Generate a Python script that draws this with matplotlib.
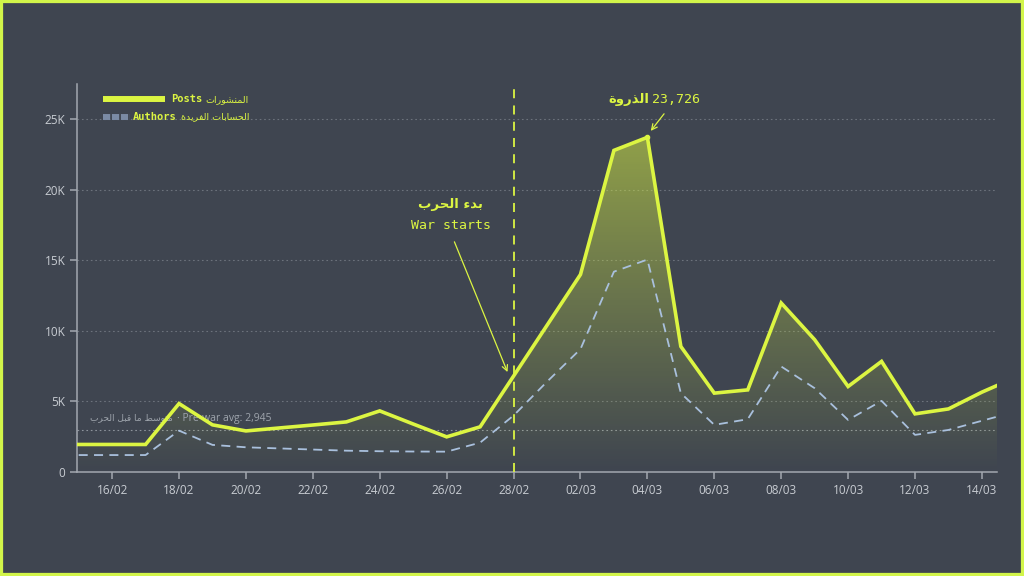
import numpy as np
import pandas as pd
import matplotlib
matplotlib.use('Agg')
import matplotlib.pyplot as plt
import matplotlib.dates as mdates
from matplotlib.lines import Line2D
from matplotlib.patches import Rectangle

# --- data (daily, 15/02 -> 15/03) ---
start_date = '2026-02-15'
end_date = '2026-03-15'
posts = [1950, 1950, 1950, 4850, 3340, 2910, 3120, 3330, 3550, 4330, 3400, 2490, 3200, 6800,
         10400, 14000, 22800, 23726, 8900, 5590, 5820, 11980, 9380, 6060, 7840, 4120, 4470, 5660, 6700]
authors = [1200, 1200, 1200, 2930, 1920, 1750, 1670, 1590, 1510, 1470, 1450, 1440, 2080, 4000,
           6400, 8710, 14200, 15060, 5590, 3340, 3740, 7480, 5940, 3690, 5040, 2630, 2980, 3630, 4270]
war_date = '2026-02-28'
prewar_avg = 2945
y_ticks = [0, 5000, 10000, 15000, 20000, 25000]
y_labels = ['0', '5K', '10K', '15K', '20K', '25K']

# colours
BG = '#3f4550'
LIME = '#dcf542'
BORDER = '#d2f54a'
BLUE = '#a9c0dd'
GRID = '#6c727c'
AXIS = '#a3a8b0'
TICK_TXT = '#c8ccd2'


# Arabic shaping by hand (matplotlib has no bidi / joining support)
FORMS = {
    'ا': ('\uFE8D', '\uFE8E'), 'ب': ('\uFE8F', '\uFE90', '\uFE91', '\uFE92'),
    'ة': ('\uFE93', '\uFE94'), 'ت': ('\uFE95', '\uFE96', '\uFE97', '\uFE98'),
    'ح': ('\uFEA1', '\uFEA2', '\uFEA3', '\uFEA4'), 'د': ('\uFEA9', '\uFEAA'),
    'ذ': ('\uFEAB', '\uFEAC'), 'ر': ('\uFEAD', '\uFEAE'),
    'س': ('\uFEB1', '\uFEB2', '\uFEB3', '\uFEB4'), 'ش': ('\uFEB5', '\uFEB6', '\uFEB7', '\uFEB8'),
    'ط': ('\uFEC1', '\uFEC2', '\uFEC3', '\uFEC4'), 'ف': ('\uFED1', '\uFED2', '\uFED3', '\uFED4'),
    'ق': ('\uFED5', '\uFED6', '\uFED7', '\uFED8'), 'ل': ('\uFEDD', '\uFEDE', '\uFEDF', '\uFEE0'),
    'م': ('\uFEE1', '\uFEE2', '\uFEE3', '\uFEE4'), 'ن': ('\uFEE5', '\uFEE6', '\uFEE7', '\uFEE8'),
    'و': ('\uFEED', '\uFEEE'), 'ي': ('\uFEF1', '\uFEF2', '\uFEF3', '\uFEF4'),
    'ء': ('\uFE80',),
}


def ar(s):
    out = []
    for i, c in enumerate(s):
        f = FORMS.get(c)
        if f is None:
            out.append(c)
            continue
        prev = s[i - 1] if i > 0 else ''
        nxt = s[i + 1] if i + 1 < len(s) else ''
        jp = len(f) >= 2 and len(FORMS.get(prev, ())) == 4
        jn = len(f) == 4 and len(FORMS.get(nxt, ())) >= 2
        if jp and jn:
            out.append(f[3])
        elif jp:
            out.append(f[1])
        elif jn:
            out.append(f[2])
        else:
            out.append(f[0])
    return ''.join(reversed(out))


MONO = 'DejaVu Sans Mono'
SANS = 'DejaVu Sans'

dates = pd.date_range(start_date, end_date, freq='D')
x = mdates.date2num(dates)
xw = mdates.date2num(pd.Timestamp(war_date))

fig = plt.figure(figsize=(10.24, 5.76), dpi=100, facecolor=BG)
ax = fig.add_axes([0.0752, 0.1806, 0.8984, 0.6734])
ax.set_facecolor(BG)

# grid + pre-war average
for yv in y_ticks[1:]:
    ax.axhline(yv, color=GRID, lw=0.8, ls=(0, (1.5, 2.5)), zorder=1)
ax.axhline(prewar_avg, color='#8d939c', lw=0.8, ls=(0, (1.5, 2.5)), zorder=1)

# gradient fill under posts
poly = ax.fill_between(x, posts, 0, facecolor='none', edgecolor='none')
n = 256
grad = np.zeros((n, 1, 4))
grad[:, 0, 0] = 0.86
grad[:, 0, 1] = 0.96
grad[:, 0, 2] = 0.26
grad[:, 0, 3] = np.linspace(0, 0.52, n)
im = ax.imshow(grad, extent=[x[0], x[-1], 0, max(posts)], origin='lower',
               aspect='auto', zorder=2, interpolation='bilinear')
im.set_clip_path(poly.get_paths()[0], transform=ax.transData)

# lines
ax.plot(x, authors, color=BLUE, lw=1.3, ls=(0, (5, 3.5)), zorder=3)
ax.plot(x, posts, color=LIME, lw=2.6, zorder=4, solid_joinstyle='miter')
ax.axvline(xw, color=LIME, lw=1.3, ls=(0, (5, 4)), zorder=3)
ipk = int(np.argmax(posts))
ax.plot(x[ipk], posts[ipk], 'o', ms=3, color=LIME, zorder=5)

# axes styling
ax.set_xlim(x[0] - 0.05, x[-2] + 0.45)
ax.set_ylim(0, 27500)
for s in ['top', 'right']:
    ax.spines[s].set_visible(False)
for s in ['left', 'bottom']:
    ax.spines[s].set_color(AXIS)
    ax.spines[s].set_linewidth(1.1)
ax.set_yticks(y_ticks)
ax.set_yticklabels(y_labels)
ax.set_xticks(x[1::2])
ax.set_xticklabels([d.strftime('%d/%m') for d in dates[1::2]])
ax.tick_params(colors=AXIS, labelcolor=TICK_TXT, length=5, width=1.1, labelsize=8.5)
for lab in ax.get_xticklabels() + ax.get_yticklabels():
    lab.set_family('Open Sans')

# pre-war label : arabic then english
t_avg = ax.text(x[0] + 0.35, prewar_avg + 880, ar('متوسط ما قبل الحرب'), color='#9ea4ac',
                fontsize=6.5, family=SANS, va='center', zorder=2)
ax.annotate('· Pre-war avg: 2,945', xy=(1, 0.5), xycoords=t_avg, xytext=(3, 0),
            textcoords='offset points', color='#9ea4ac',
            fontsize=7.5, family='Open Sans', va='center', ha='left', zorder=2)

# war starts annotation
ax.text(x[0] + 11.12, 18960, ar('بدء الحرب'), color=LIME, fontsize=9.5, weight='bold',
        family=SANS, ha='center', va='center')
ax.text(x[0] + 11.12, 17470, 'War starts', color=LIME, fontsize=9.5, family=MONO,
        ha='center', va='center')
ax.annotate('', xy=(x[0] + 12.85, 6900), xytext=(x[0] + 11.2, 16500),
            arrowprops=dict(arrowstyle='->', color=LIME, lw=0.9))

# peak annotation
ax.text(x[0] + 17.05, 26150, ar('الذروة'), color=LIME, fontsize=9.5, weight='bold',
        family=SANS, ha='right', va='baseline')
ax.text(x[0] + 17.15, 26150, f'{posts[ipk]:,}', color=LIME, fontsize=9.5, family=MONO,
        ha='left', va='baseline')
ax.annotate('', xy=(x[ipk] + 0.05, posts[ipk] + 300), xytext=(x[ipk] + 0.55, 25550),
            arrowprops=dict(arrowstyle='->', color=LIME, lw=0.9))

# legend (drawn by hand, right aligned labels)
ax.add_line(Line2D([0.028, 0.0957], [0.961, 0.961], transform=ax.transAxes,
                   color=LIME, lw=4.3, solid_capstyle='butt'))
ax.add_line(Line2D([0.028, 0.0575], [0.915, 0.915], transform=ax.transAxes,
                   color='#7b8ba5', lw=4.3, ls=(0, (1.2, 0.3)), dash_capstyle='butt'))
legend_rows = [(0.961, 'Posts', 'المنشورات'), (0.915, 'Authors', 'الحسابات الفريدة')]
for yy, en, arabic in legend_rows:
    t = ax.text(0.187, yy, ar(arabic), transform=ax.transAxes, color=LIME,
                fontsize=6.8, family=SANS, ha='right', va='center')
    ax.annotate(en, xy=(0, 0.5), xycoords=t, xytext=(-2.5, 0), textcoords='offset points',
                color=LIME, fontsize=7.5, weight='bold', family=MONO, ha='right', va='center')

# outer border
fig.patches.append(Rectangle((0, 0), 1, 1, transform=fig.transFigure, fill=False,
                             edgecolor=BORDER, lw=4.5))

fig.savefig('out.png', dpi=100, facecolor=BG)
